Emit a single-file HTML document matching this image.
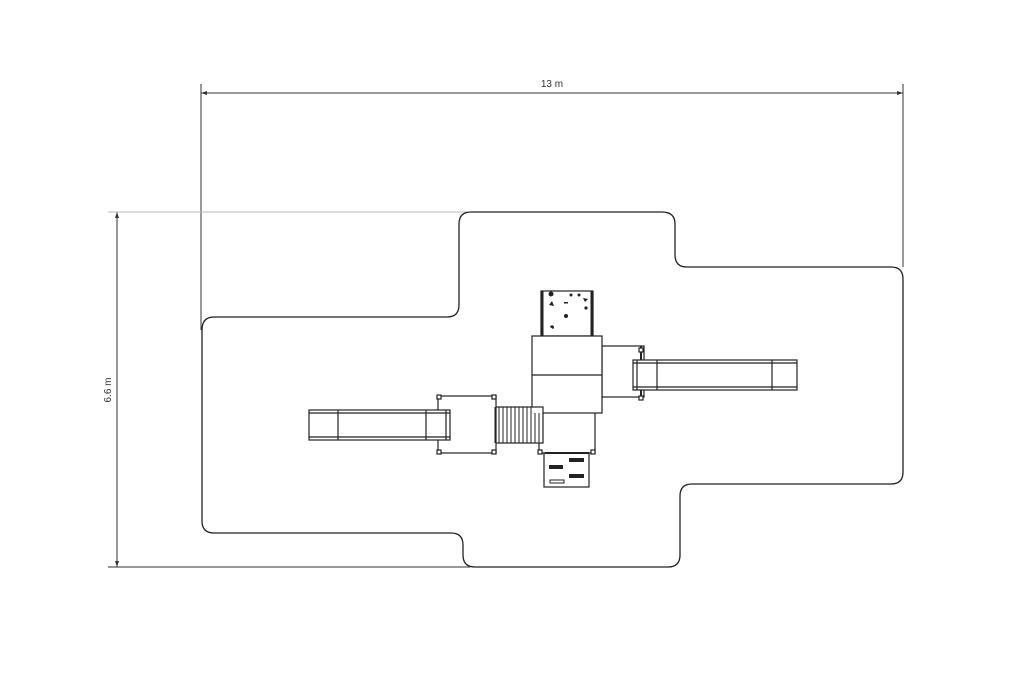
<!DOCTYPE html>
<html><head><style>body{margin:0;background:#fff}svg{display:block}</style></head><body>
<svg width="1024" height="680" viewBox="0 0 1024 680" xmlns="http://www.w3.org/2000/svg" font-family="Liberation Sans, sans-serif">
<!-- dimension lines -->
<g stroke="#333" stroke-width="1" fill="none">
<line x1="201" y1="84" x2="201" y2="330"/>
<line x1="903" y1="84" x2="903" y2="267"/>
<line x1="201" y1="93" x2="903" y2="93"/>
<line x1="117" y1="212" x2="117" y2="567"/>
<line x1="108" y1="567" x2="470" y2="567"/>
</g>
<line x1="108" y1="212" x2="470" y2="212" stroke="#bbb" stroke-width="1"/>
<path d="M201 93 l6 -2 v4z M903 93 l-6 -2 v4z M117 212 l-2 6 h4z M117 567 l-2 -6 h4z" fill="#333"/>
<text x="552" y="87" font-size="10" text-anchor="middle" fill="#333">13 m</text>
<text x="0" y="0" font-size="10" text-anchor="middle" fill="#333" transform="translate(111,390) rotate(-90)">6.6 m</text>
<!-- outline -->
<path d="M202 330 Q202 317 214 317 H447 Q459 317 459 305 V224 Q459 212 471 212 H662 Q675 212 675 224 V255 Q675 267 687 267 H891 Q903 267 903 279 V472 Q903 484 891 484 H692 Q680 484 680 496 V555 Q680 567 668 567 H475 Q463 567 463 555 V545 Q463 533 451 533 H214 Q202 533 202 521 Z" fill="none" stroke="#222" stroke-width="1.3"/>
<g stroke="#222" stroke-width="1.2" fill="#fff">
<!-- climbing wall -->
<rect x="541" y="291" width="52" height="45"/>
<line x1="542" y1="291" x2="542" y2="336" stroke-width="3"/>
<line x1="592" y1="291" x2="592" y2="336" stroke-width="3"/>
<!-- right platform -->
<rect x="602" y="346" width="42" height="51"/>
<line x1="641" y1="346" x2="641" y2="400" stroke-width="2"/>
<!-- right slide -->
<rect x="633" y="360" width="164" height="30"/>
<line x1="633" y1="363" x2="797" y2="363"/>
<line x1="633" y1="387" x2="797" y2="387"/>
<line x1="637" y1="360" x2="637" y2="390"/>
<line x1="657" y1="360" x2="657" y2="390"/>
<line x1="772" y1="360" x2="772" y2="390"/>
<!-- lower deck -->
<rect x="539" y="405" width="56" height="48"/>
<!-- tower -->
<rect x="532" y="336" width="70" height="77"/>
<line x1="532" y1="375" x2="602" y2="375"/>
<!-- bridge -->
<rect x="492" y="407" width="51" height="36"/>
<!-- left deck -->
<rect x="438" y="396" width="58" height="57"/>
<!-- left slide -->
<rect x="309" y="410" width="141" height="30"/>
<line x1="309" y1="413" x2="450" y2="413"/>
<line x1="309" y1="437" x2="450" y2="437"/>
<line x1="338" y1="410" x2="338" y2="440"/>
<line x1="426" y1="410" x2="426" y2="440"/>
<line x1="446" y1="410" x2="446" y2="440"/>
<!-- ladder panel -->
<rect x="544" y="453" width="45" height="34"/>
</g>
<g stroke="#222" stroke-width="1">
<line x1="495" y1="407" x2="495" y2="443"/><line x1="499" y1="407" x2="499" y2="443"/><line x1="503" y1="407" x2="503" y2="443"/><line x1="507" y1="407" x2="507" y2="443"/><line x1="511" y1="407" x2="511" y2="443"/><line x1="515" y1="407" x2="515" y2="443"/><line x1="519" y1="407" x2="519" y2="443"/><line x1="523" y1="407" x2="523" y2="443"/><line x1="527" y1="407" x2="527" y2="443"/><line x1="531" y1="407" x2="531" y2="443"/><line x1="535" y1="413" x2="535" y2="443"/><line x1="539" y1="413" x2="539" y2="443"/>
</g>
<!-- posts -->
<g fill="#fff" stroke="#222" stroke-width="1.2">
<rect x="437" y="395" width="4" height="4"/><rect x="492" y="395" width="4" height="4"/><rect x="437" y="450" width="4" height="4"/><rect x="492" y="450" width="4" height="4"/>
<rect x="639" y="348" width="4" height="4"/><rect x="639" y="396" width="4" height="4"/>
<rect x="538" y="450" width="4" height="4"/><rect x="591" y="450" width="4" height="4"/>
</g>
<line x1="545" y1="453" x2="589" y2="453" stroke="#222" stroke-width="2"/>
<!-- ladder marks -->
<g fill="#222">
<rect x="569" y="458" width="15" height="4"/><rect x="549" y="465" width="14" height="4"/><rect x="569" y="474" width="15" height="4"/>
<rect x="550" y="480" width="14" height="3" fill="none" stroke="#222" stroke-width="1"/>
</g>
<!-- holds -->
<g fill="#222">
<circle cx="551" cy="294" r="2.5"/><circle cx="571" cy="295" r="1.5"/><circle cx="579" cy="295" r="1.5"/>
<path d="M549 305 l3 -4 l2 5z"/><rect x="564" y="302" width="4" height="1.5"/><path d="M583 298 l5 1 l-3 3z"/>
<circle cx="586" cy="308" r="1.6"/><circle cx="566" cy="316" r="2"/><path d="M550 327 a2 2 0 1 1 3 2 z"/>
</g>
</svg>
</body></html>
